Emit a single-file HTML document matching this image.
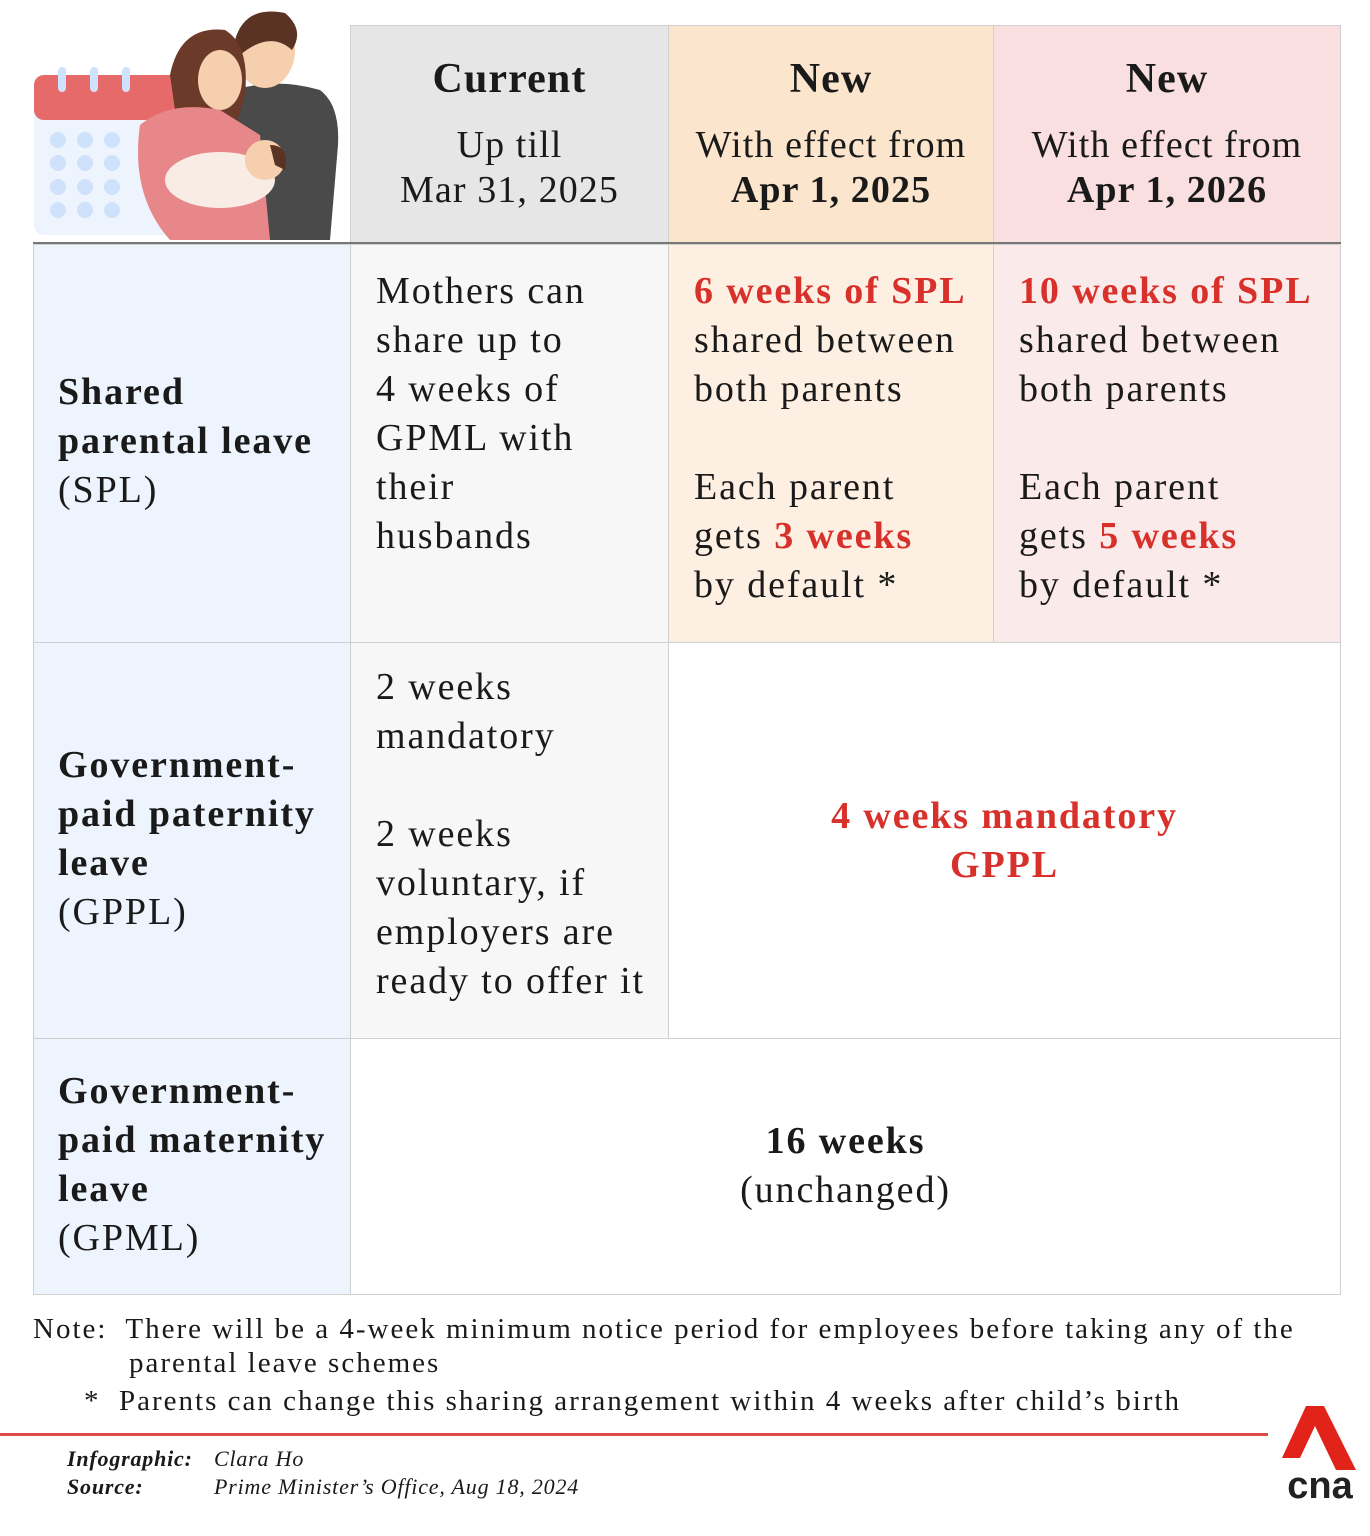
<!DOCTYPE html>
<html><head><meta charset="utf-8">
<style>
body{margin:0;width:1370px;height:1536px;background:#fff;position:relative;font-family:"Liberation Serif",serif;color:#1a1a1a;overflow:hidden}
.a{position:absolute;box-sizing:border-box}
.cell{position:absolute;box-sizing:border-box;border:1.5px solid #cfcfcf}
.t{position:absolute;font-size:38px;line-height:49px;white-space:nowrap;letter-spacing:1.9px}
.h{letter-spacing:1.1px}
.b{font-weight:bold}
.r{color:#d8302a;font-weight:bold}
.c{text-align:center}
</style></head><body>
<svg class="a" style="left:30px;top:5px" width="315" height="240">
<rect x="4" y="70" width="150" height="160" rx="10" fill="#eef4fd"/>
<rect x="4" y="70" width="150" height="45" rx="10" fill="#e66a6a"/>
<g fill="#cfe2fb"><circle cx="28" cy="135" r="8"/><circle cx="55" cy="135" r="8"/><circle cx="82" cy="135" r="8"/><circle cx="28" cy="158" r="8"/><circle cx="55" cy="158" r="8"/><circle cx="82" cy="158" r="8"/><circle cx="28" cy="182" r="8"/><circle cx="55" cy="182" r="8"/><circle cx="82" cy="182" r="8"/><circle cx="28" cy="205" r="8"/><circle cx="55" cy="205" r="8"/><circle cx="82" cy="205" r="8"/></g>
<g fill="#cfe2fb"><rect x="28" y="62" width="8" height="25" rx="4"/><rect x="60" y="62" width="8" height="25" rx="4"/><rect x="92" y="62" width="8" height="25" rx="4"/></g>
<path d="M190 90 Q240 70 290 85 Q310 100 308 140 L300 235 L180 235 Z" fill="#4a4a4a"/>
<ellipse cx="235" cy="45" rx="30" ry="38" fill="#f5cfae"/>
<path d="M205 35 Q215 0 255 8 Q275 25 262 45 Q240 25 210 50 Z" fill="#5a3324"/>
<path d="M140 70 Q150 20 195 25 Q220 40 215 90 L200 140 L150 140 Z" fill="#6b3a28"/>
<ellipse cx="190" cy="75" rx="22" ry="30" fill="#f5cfae"/>
<path d="M110 120 Q140 95 190 105 L230 130 L240 235 L140 235 Q100 190 110 120 Z" fill="#e8878a"/>
<ellipse cx="190" cy="175" rx="55" ry="28" fill="#f8ece4"/>
<circle cx="235" cy="155" r="20" fill="#f5cfae"/>
<path d="M240 140 Q260 140 255 165 L245 160 Z" fill="#5a3324"/>
</svg>
<div class="cell" style="left:350px;top:25px;width:319px;height:220px;background:#e6e6e6"></div>
<div class="cell" style="left:668px;top:25px;width:326px;height:220px;background:#fbe5cc"></div>
<div class="cell" style="left:993px;top:25px;width:348px;height:220px;background:#f9dfe0"></div>
<div class="a" style="left:33px;top:242px;width:1308px;height:3px;background:#777"></div>
<div class="t b c h" style="left:350px;width:319px;top:55px;font-size:42px">Current</div>
<div class="t c h" style="left:350px;width:319px;top:123px;line-height:45px">Up till<br>Mar 31, 2025</div>
<div class="t b c h" style="left:668px;width:326px;top:55px;font-size:42px">New</div>
<div class="t c h" style="left:668px;width:326px;top:123px;line-height:45px">With effect from<br><b>Apr 1, 2025</b></div>
<div class="t b c h" style="left:993px;width:348px;top:55px;font-size:42px">New</div>
<div class="t c h" style="left:993px;width:348px;top:123px;line-height:45px">With effect from<br><b>Apr 1, 2026</b></div>
<div class="cell" style="left:33px;top:244px;width:318px;height:399px;background:#eef4fd"></div>
<div class="cell" style="left:350px;top:244px;width:319px;height:399px;background:#f7f7f7"></div>
<div class="cell" style="left:668px;top:244px;width:326px;height:399px;background:#fdf0e3"></div>
<div class="cell" style="left:993px;top:244px;width:348px;height:399px;background:#fbeaea"></div>
<div class="cell" style="left:33px;top:642px;width:318px;height:397px;background:#eef4fd"></div>
<div class="cell" style="left:350px;top:642px;width:319px;height:397px;background:#f7f7f7"></div>
<div class="cell" style="left:668px;top:642px;width:673px;height:397px;background:#fff"></div>
<div class="cell" style="left:33px;top:1038px;width:318px;height:257px;background:#eef4fd"></div>
<div class="cell" style="left:350px;top:1038px;width:991px;height:257px;background:#fff"></div>

<div class="t" style="left:58px;top:368px"><b>Shared<br>parental leave</b><br>(SPL)</div>
<div class="t" style="left:376px;top:267px">Mothers can<br>share up to<br>4 weeks of<br>GPML with<br>their<br>husbands</div>
<div class="t" style="left:694px;top:267px"><span class="r">6 weeks of SPL</span><br>shared between<br>both parents<br><br>Each parent<br>gets <span class="r">3 weeks</span><br>by default *</div>
<div class="t" style="left:1019px;top:267px"><span class="r">10 weeks of SPL</span><br>shared between<br>both parents<br><br>Each parent<br>gets <span class="r">5 weeks</span><br>by default *</div>

<div class="t" style="left:58px;top:741px"><b>Government-<br>paid paternity<br>leave</b><br>(GPPL)</div>
<div class="t" style="left:376px;top:663px">2 weeks<br>mandatory<br><br>2 weeks<br>voluntary, if<br>employers are<br>ready to offer it</div>
<div class="t c r" style="left:668px;width:673px;top:792px">4 weeks mandatory<br>GPPL</div>

<div class="t" style="left:58px;top:1067px"><b>Government-<br>paid maternity<br>leave</b><br>(GPML)</div>
<div class="t c" style="left:350px;width:991px;top:1117px"><b>16 weeks</b><br>(unchanged)</div>

<div class="t" style="left:33px;top:1312px;font-size:29px;line-height:34px;letter-spacing:2px">Note:&nbsp; There will be a 4-week minimum notice period for employees before taking any of the<br><span style="padding-left:96px">parental leave schemes</span></div>
<div class="t" style="left:84px;top:1384px;font-size:29px;line-height:34px;letter-spacing:2px">*&nbsp; Parents can change this sharing arrangement within 4 weeks after child’s birth</div>
<div class="a" style="left:0;top:1433px;width:1268px;height:3px;background:#e04a45"></div>
<div class="t" style="left:67px;top:1445px;font-size:22px;line-height:28px;font-style:italic;letter-spacing:0.8px"><b>Infographic:</b><br><b>Source:</b></div>
<div class="t" style="left:214px;top:1445px;font-size:22px;line-height:28px;font-style:italic;letter-spacing:0.8px">Clara Ho<br>Prime Minister’s Office, Aug 18, 2024</div>
<svg class="a" style="left:1280px;top:1402px" width="80" height="100">
<path d="M26 4 L44 4 L76 68 L56 68 L35 24 L20 56 L2 56 Z" fill="#e2231a"/>
<text x="40" y="96" text-anchor="middle" font-family="Liberation Sans,sans-serif" font-weight="bold" font-size="38" fill="#222">cna</text>
</svg>
</body></html>
